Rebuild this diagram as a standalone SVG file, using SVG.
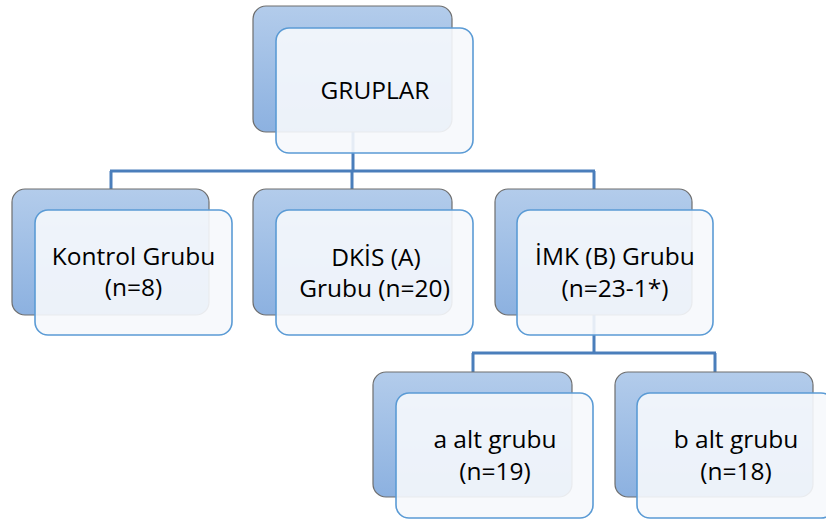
<svg xmlns="http://www.w3.org/2000/svg" width="826" height="520" viewBox="0 0 826 520">
<style>
.back{fill:url(#bg);stroke:#6e6e6e;stroke-width:1.2}
.front{fill:#f6f8fc;fill-opacity:0.9;stroke:#5b9bd5;stroke-width:1.6}
.t{font-family:"Open Sans","Liberation Sans",sans-serif;font-size:24.5px;fill:#000;text-anchor:middle}
.conn{fill:none;stroke:#4a7ebb;stroke-width:3}
</style>
<defs>
<linearGradient id="bg" x1="0" y1="0" x2="0" y2="1">
<stop offset="0" stop-color="#b3cceb"/>
<stop offset="1" stop-color="#8cb1e0"/>
</linearGradient>
</defs>
<rect width="826" height="520" fill="#fff"/>
<g id="connectors" class="conn">
<path d="M353 132V171M110 171H595M111 171V189M352 171V189M594 171V189"/>
<path d="M594 315V353M472 353H716M473 353V372M715 353V372"/>
</g>
<g id="n-gruplar">
<rect class="back" x="253" y="6" width="199" height="126" rx="13"/>
<rect class="front" x="276" y="28" width="197" height="125" rx="13"/>
<text class="t" x="375" y="99">GRUPLAR</text>
</g>
<g id="n-kontrol">
<rect class="back" x="12" y="189" width="197" height="126" rx="13"/>
<rect class="front" x="35" y="210" width="197" height="125" rx="13"/>
<text class="t" x="133.5" y="265">Kontrol Grubu</text>
<text class="t" x="133.5" y="296">(n=8)</text>
</g>
<g id="n-dkis">
<rect class="back" x="253" y="189" width="199" height="126" rx="13"/>
<rect class="front" x="276" y="210" width="197" height="125" rx="13"/>
<text class="t" x="376" y="266">DKİS (A)</text>
<text class="t" x="374.5" y="297">Grubu (n=20)</text>
</g>
<g id="n-imk">
<rect class="back" x="495" y="189" width="197" height="126" rx="13"/>
<rect class="front" x="517" y="210" width="196" height="125" rx="13"/>
<text class="t" x="615" y="265">İMK (B) Grubu</text>
<text class="t" x="615" y="297">(n=23-1*)</text>
</g>
<g id="n-a">
<rect class="back" x="373" y="372" width="199" height="125" rx="13"/>
<rect class="front" x="396" y="393" width="197" height="125" rx="13"/>
<text class="t" x="495" y="448">a alt grubu</text>
<text class="t" x="495" y="480">(n=19)</text>
</g>
<g id="n-b">
<rect class="back" x="615" y="372" width="198" height="125" rx="13"/>
<rect class="front" x="637" y="393" width="197" height="125" rx="13"/>
<text class="t" x="736" y="448">b alt grubu</text>
<text class="t" x="736" y="480">(n=18)</text>
</g>
</svg>
